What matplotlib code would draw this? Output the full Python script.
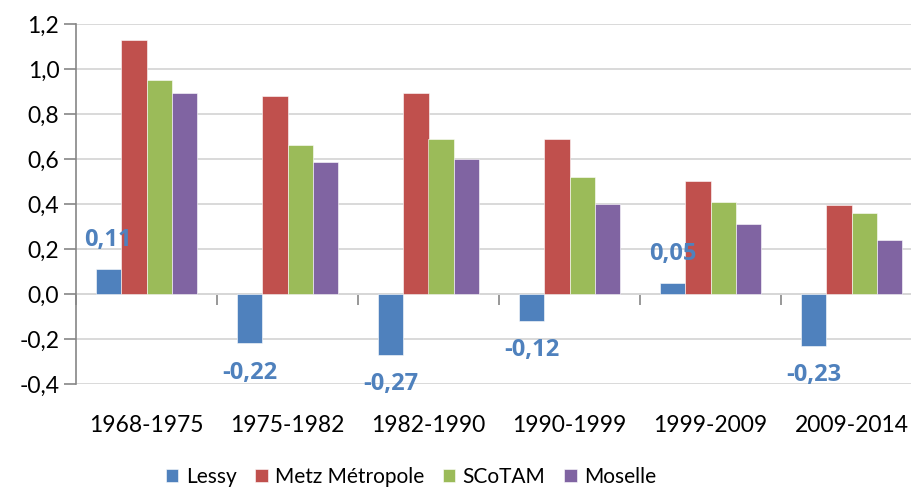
import numpy as np
import matplotlib
matplotlib.use("Agg")
import matplotlib.pyplot as plt
from matplotlib.ticker import FuncFormatter

# periods and growth rates
periods = ["1968-1975", "1975-1982", "1982-1990", "1990-1999", "1999-2009", "2009-2014"]
lessy = [0.11, -0.22, -0.27, -0.12, 0.05, -0.23]
metz = [1.13, 0.88, 0.895, 0.69, 0.50, 0.395]
scotam = [0.95, 0.66, 0.69, 0.52, 0.41, 0.36]
moselle = [0.895, 0.585, 0.60, 0.40, 0.31, 0.24]

series_names = ["Lessy", "Metz Métropole", "SCoTAM", "Moselle"]
colors = ["#4F81BD", "#C0504D", "#9BBB59", "#8064A2"]

plt.rcParams['font.family'] = ['Lato', 'DejaVu Sans']


def main():
    fig = plt.figure(figsize=(9.12, 4.9), dpi=100)
    # right edge of the plot runs slightly past the figure, as in the source
    ax = fig.add_axes([76 / 912, 106 / 490, 846 / 912, 360 / 490])

    x = np.arange(len(periods))
    w = 0.18
    all_series = [lessy, metz, scotam, moselle]
    for i, (vals, name, c) in enumerate(zip(all_series, series_names, colors)):
        ax.bar(x + (i - 1.5) * w, vals, width=w, color=c, label=name,
               edgecolor="white", linewidth=0.4, zorder=3)

    # data labels for Lessy
    for xi, v in zip(x, lessy):
        off = 21 if v >= 0 else -21
        ax.annotate("{:.2f}".format(v).replace(".", ","), (xi - 1.5 * w, v),
                    xytext=(0, off), textcoords="offset points",
                    ha="center", va="center", fontsize=17, fontweight="bold",
                    family=["Open Sans", "DejaVu Sans"],
                    color="#4F81BD", zorder=4)

    ymin, ymax = -0.4, 1.2
    ax.set_ylim(ymin, ymax)
    ax.set_xlim(-0.5, len(periods) - 0.5)
    ax.set_yticks(np.arange(-0.4, 1.21, 0.2))
    ax.yaxis.set_major_formatter(FuncFormatter(lambda v, p: "{:.1f}".format(v).replace(".", ",")))
    ax.grid(axis="y", color="#D9D9D9", linewidth=1.4, zorder=0)
    ax.set_axisbelow(True)

    for s in ["top", "right", "bottom"]:
        ax.spines[s].set_visible(False)
    ax.spines["left"].set_color("#868686")
    ax.spines["left"].set_linewidth(1.2)
    ax.tick_params(axis="y", length=9, width=1.2, color="#868686", labelsize=16.5, pad=3)

    ax.set_xticks(x)
    ax.set_xticklabels(periods)
    ax.tick_params(axis="x", length=0, labelsize=16.5, pad=22)

    # zero line with category boundary ticks
    zero_frac = (0 - ymin) / (ymax - ymin)
    sec = ax.secondary_xaxis(zero_frac)
    sec.set_xticks(np.arange(-0.5, len(periods), 1.0))
    sec.set_xticklabels([])
    sec.spines["bottom"].set_color("#868686")
    sec.spines["bottom"].set_linewidth(1.2)
    sec.tick_params(axis="x", length=8, width=1.2, color="#868686", direction="out")

    handles, labels = ax.get_legend_handles_labels()
    fig.legend(handles, labels, loc="center", bbox_to_anchor=(411 / 912, 13 / 490),
               ncol=4, frameon=False, fontsize=15, handlelength=0.6, handleheight=0.6,
               handletextpad=0.35, columnspacing=0.9)

    fig.savefig("out.png", dpi=100)


if __name__ == "__main__":
    main()
